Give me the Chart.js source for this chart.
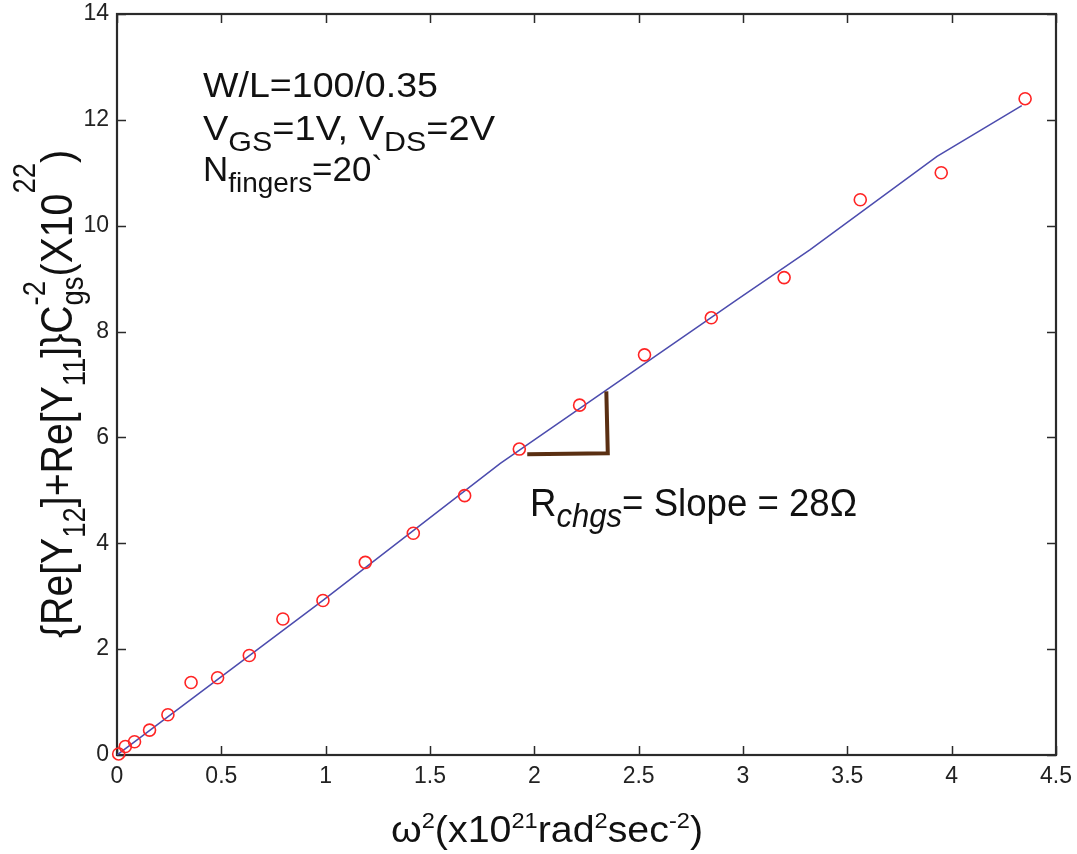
<!DOCTYPE html>
<html>
<head>
<meta charset="utf-8">
<script src="https://cdn.jsdelivr.net/npm/chart.js@4.4.1/dist/chart.umd.min.js"></script>
<style>
  html, body { margin: 0; padding: 0; background: #fff; }
  #wrap { width: 1077px; height: 854px; }
</style>
</head>
<body>
<div id="wrap"><canvas id="myChart" width="1077" height="854"></canvas></div>
<script>
// measured points: omega^2 (x1e21) vs {Re[Y12]+Re[Y11]}Cgs^-2 (x1e22)
const omegaSq = [0.008, 0.04, 0.084, 0.156, 0.244, 0.355, 0.482, 0.634, 0.795, 0.987,
  1.19, 1.42, 1.666, 1.928, 2.217, 2.528, 2.848, 3.197, 3.562, 3.95, 4.352];
const reSum = [0.02, 0.16, 0.25, 0.47, 0.76, 1.37, 1.46, 1.88, 2.57, 2.92,
  3.64, 4.19, 4.90, 5.78, 6.61, 7.56, 8.26, 9.02, 10.49, 11.0, 12.40];

// fitted line
const fitX = [0, 0.987, 1.837, 2.97, 3.322, 3.93, 4.336];
const fitY = [0, 2.92, 5.51, 8.60, 9.55, 11.31, 12.27];

// slope bracket
const bracketX = [1.966, 2.352, 2.345];
const bracketY = [5.68, 5.70, 6.87];

const xMin = 0, xMax = 4.5, xStep = 0.5;
const yMin = 0, yMax = 14, yStep = 2;

const NARROW = '"Liberation Sans Narrow", "Arial Narrow", "Liberation Sans", sans-serif';
const SANS = '"Liberation Sans", Arial, sans-serif';

function toXY(xs, ys) {
  return xs.map((x, i) => ({ x: x, y: ys[i] }));
}

// rich text: segments with size ratio (sc), vertical offset in em (dy), italic, stack
function segFont(seg, size) {
  return (seg.it ? 'italic ' : '') + (size * (seg.sc || 1)) + 'px ' + SANS;
}

function richWidth(ctx, segs, size) {
  let w = 0, held = 0;
  segs.forEach(seg => {
    ctx.font = segFont(seg, size);
    const sw = ctx.measureText(seg.t).width;
    if (seg.stack) { held = sw; return; }
    w += Math.max(sw, held);
    held = 0;
  });
  return w;
}

function drawRich(ctx, segs, size, target) {
  const w = richWidth(ctx, segs, size);
  ctx.save();
  ctx.scale(target / w, 1);
  ctx.textBaseline = 'alphabetic';
  ctx.textAlign = 'left';
  ctx.fillStyle = '#111';
  let x = 0, held = 0;
  segs.forEach(seg => {
    ctx.font = segFont(seg, size);
    const sw = ctx.measureText(seg.t).width;
    ctx.fillText(seg.t, x, (seg.dy || 0) * size);
    if (seg.stack) { held = sw; return; }
    x += Math.max(sw, held);
    held = 0;
  });
  ctx.restore();
}

const yTitle = [
  { t: '{Re[Y' }, { t: '12', sc: 0.7, dy: 0.3 },
  { t: ']+Re[Y' }, { t: '11', sc: 0.7, dy: 0.3 },
  { t: ']}C' }, { t: '-2', sc: 0.7, dy: -0.62, stack: true }, { t: 'gs', sc: 0.7, dy: 0.25 },
  { t: '(X10' }, { t: '22', sc: 0.7, dy: -0.85 }, { t: ')' }
];
const xTitle = [
  { t: '\u03c9' }, { t: '2', sc: 0.6, dy: -0.38 },
  { t: '(x10' }, { t: '21', sc: 0.6, dy: -0.38 },
  { t: 'rad' }, { t: '2', sc: 0.6, dy: -0.38 },
  { t: 'sec' }, { t: '-2', sc: 0.6, dy: -0.38 }, { t: ')' }
];
const note1 = [{ t: 'W/L=100/0.35' }];
const note2 = [
  { t: 'V' }, { t: 'GS', sc: 0.8, dy: 0.3 }, { t: '=1V, V' }, { t: 'DS', sc: 0.8, dy: 0.3 }, { t: '=2V' }
];
const note3 = [{ t: 'N' }, { t: 'fingers', sc: 0.8, dy: 0.3 }, { t: '=20`' }];
const slopeNote = [
  { t: 'R' }, { t: 'chgs', sc: 0.85, dy: 0.3, it: true }, { t: '= Slope = 28\u03a9' }
];

const framePlugin = {
  id: 'frame',
  beforeDatasetsDraw(chart) {
    const ctx = chart.ctx;
    const a = chart.chartArea;
    const xs = chart.scales.x, ys = chart.scales.y;
    const tl = 9;
    ctx.save();
    ctx.strokeStyle = '#2a2a2a';
    ctx.lineWidth = 1.5;
    xs.ticks.forEach(t => {
      const px = Math.round(xs.getPixelForValue(t.value)) + 0.5;
      ctx.beginPath();
      ctx.moveTo(px, a.bottom); ctx.lineTo(px, a.bottom - tl);
      ctx.moveTo(px, a.top); ctx.lineTo(px, a.top + tl);
      ctx.stroke();
    });
    ys.ticks.forEach(t => {
      const py = Math.round(ys.getPixelForValue(t.value)) + 0.5;
      ctx.beginPath();
      ctx.moveTo(a.left, py); ctx.lineTo(a.left + tl, py);
      ctx.moveTo(a.right, py); ctx.lineTo(a.right - tl, py);
      ctx.stroke();
    });
    ctx.lineWidth = 2.2;
    ctx.strokeRect(a.left, a.top, a.right - a.left, a.bottom - a.top);
    ctx.restore();
  },
  afterDraw(chart) {
    const ctx = chart.ctx;
    ctx.save();
    // y axis title, reading bottom to top
    ctx.translate(72, 638);
    ctx.rotate(-Math.PI / 2);
    drawRich(ctx, yTitle, 44, 488);
    ctx.restore();

    ctx.save();
    ctx.translate(391, 842);
    drawRich(ctx, xTitle, 36, 312);
    ctx.restore();

    ctx.save(); ctx.translate(203, 97); drawRich(ctx, note1, 35, 235); ctx.restore();
    ctx.save(); ctx.translate(203, 140); drawRich(ctx, note2, 35, 292); ctx.restore();
    ctx.save(); ctx.translate(203, 181); drawRich(ctx, note3, 35, 180); ctx.restore();
    ctx.save(); ctx.translate(530, 516); drawRich(ctx, slopeNote, 38, 327); ctx.restore();
  }
};

const tickLabel = v => String(Number(v.toFixed(2)));

const ctx = document.getElementById('myChart').getContext('2d');
const chart = new Chart(ctx, {
  type: 'scatter',
  data: {
    datasets: [{
      data: toXY(omegaSq, reSum),
      showLine: false,
      pointStyle: 'circle',
      pointRadius: 6,
      pointBorderWidth: 1.6,
      pointBorderColor: '#ff2424',
      pointBackgroundColor: 'rgba(0,0,0,0)',
      clip: false
    }, {
      data: toXY(bracketX, bracketY),
      showLine: true,
      borderColor: '#5a2f12',
      borderWidth: 4,
      pointRadius: 0,
      tension: 0,
      borderJoinStyle: 'miter'
    }, {
      data: toXY(fitX, fitY),
      showLine: true,
      borderColor: '#4c4cae',
      borderWidth: 1.5,
      pointRadius: 0,
      tension: 0
    }]
  },
  options: {
    responsive: false,
    animation: false,
    layout: { padding: { left: 0, top: 14, right: 21, bottom: 0 } },
    plugins: {
      legend: { display: false },
      tooltip: { enabled: false }
    },
    scales: {
      x: {
        type: 'linear',
        min: xMin, max: xMax,
        afterFit: s => { s.height = 99; s.paddingLeft = 0; s.paddingRight = 0; },
        grid: { display: false, drawTicks: false },
        border: { display: false },
        ticks: { stepSize: xStep, padding: 8, color: '#222', callback: tickLabel,
          font: { family: NARROW, size: 23 } }
      },
      y: {
        type: 'linear',
        min: yMin, max: yMax,
        afterFit: s => { s.width = 117; s.paddingTop = 0; s.paddingBottom = 0; },
        grid: { display: false, drawTicks: false },
        border: { display: false },
        ticks: { stepSize: yStep, padding: 8, color: '#222', callback: tickLabel,
          font: { family: NARROW, size: 23 } }
      }
    }
  },
  plugins: [framePlugin]
});
</script>
</body>
</html>
